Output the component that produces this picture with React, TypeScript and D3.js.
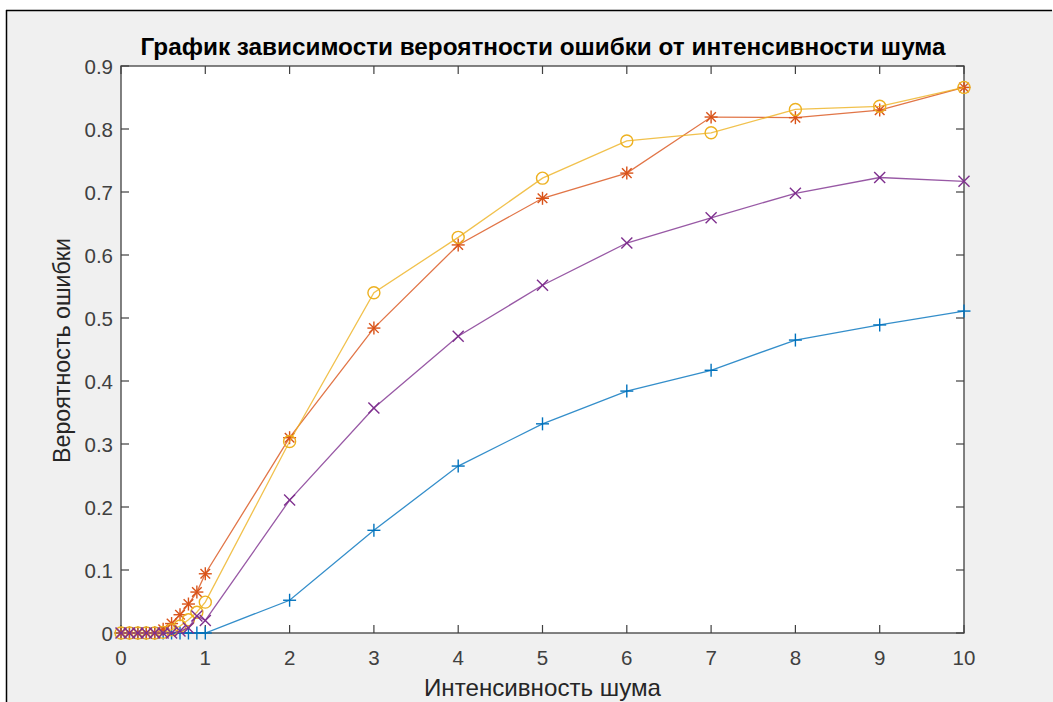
import React from "react";
import * as d3 from "d3";

const xValues = [0, 0.1, 0.2, 0.3, 0.4, 0.5, 0.6, 0.7, 0.8, 0.9, 1, 2, 3, 4, 5, 6, 7, 8, 9, 10];
const bluePlus = [0, 0, 0, 0, 0, 0, 0, 0, 0, 0, 0, 0.052, 0.163, 0.265, 0.332, 0.384, 0.417, 0.465, 0.489, 0.511];
const orangeStar = [0, 0, 0, 0, 0, 0.006, 0.015, 0.029, 0.046, 0.065, 0.094, 0.31, 0.484, 0.616, 0.69, 0.73, 0.819, 0.818, 0.83, 0.866];
const yellowCircle = [0, 0, 0, 0, 0, 0.001, 0.005, 0.011, 0.021, 0.033, 0.049, 0.304, 0.54, 0.628, 0.722, 0.781, 0.794, 0.831, 0.836, 0.866];
const purpleCross = [0, 0, 0, 0, 0, 0, 0, 0.003, 0.008, 0.027, 0.02, 0.211, 0.357, 0.471, 0.552, 0.619, 0.659, 0.698, 0.723, 0.717];

const xTicks = [0, 1, 2, 3, 4, 5, 6, 7, 8, 9, 10];
const yTicks = [0, 0.1, 0.2, 0.3, 0.4, 0.5, 0.6, 0.7, 0.8, 0.9];

const title = "График зависимости вероятности ошибки от интенсивности шума";
const xLabel = "Интенсивность шума";
const yLabel = "Вероятность ошибки";

const series = [
  { name: "plus", values: bluePlus, color: "#0072BD" },
  { name: "star", values: orangeStar, color: "#D95319" },
  { name: "circle", values: yellowCircle, color: "#EDB120" },
  { name: "cross", values: purpleCross, color: "#7E2F8E" },
];

const W = 1053;
const H = 702;
const L = 121, R = 964, T = 66, B = 633;
const axisColor = "#404040";
const font = "'Liberation Sans', Arial, Helvetica, sans-serif";

function Marker({ kind, x, y, color }: { kind: string; x: number; y: number; color: string }) {
  const s = 6.5;
  if (kind === "plus") {
    return (
      <g stroke={color} strokeWidth={1.4}>
        <line x1={x - s} y1={y} x2={x + s} y2={y} />
        <line x1={x} y1={y - s} x2={x} y2={y + s} />
      </g>
    );
  }
  if (kind === "cross") {
    const c = 5.5;
    return (
      <g stroke={color} strokeWidth={1.4}>
        <line x1={x - c} y1={y - c} x2={x + c} y2={y + c} />
        <line x1={x - c} y1={y + c} x2={x + c} y2={y - c} />
      </g>
    );
  }
  if (kind === "circle") {
    return <circle cx={x} cy={y} r={6} fill="none" stroke={color} strokeWidth={1.4} />;
  }
  const c = 4.8;
  return (
    <g stroke={color} strokeWidth={1.4}>
      <line x1={x - s} y1={y} x2={x + s} y2={y} />
      <line x1={x} y1={y - s} x2={x} y2={y + s} />
      <line x1={x - c} y1={y - c} x2={x + c} y2={y + c} />
      <line x1={x - c} y1={y + c} x2={x + c} y2={y - c} />
    </g>
  );
}

export default function App() {
  const xs = d3.scaleLinear().domain([0, 10]).range([L, R]);
  const ys = d3.scaleLinear().domain([0, 0.9]).range([B, T]);
  const line = d3
    .line<number>()
    .x((_, i) => xs(xValues[i]))
    .y((d) => ys(d));
  const tick = 8;
  return (
    <svg
      width={W}
      height={H}
      style={{ position: "absolute", left: 0, top: 0, background: "#ffffff" }}
      fontFamily={font}
    >
      <rect x={6} y={10} width={W - 6} height={H - 10} fill="#f0f0f0" />
      <line x1={6} y1={10.5} x2={1052} y2={10.5} stroke="#000" strokeWidth={1.5} />
      <line x1={6.5} y1={10} x2={6.5} y2={H} stroke="#000" strokeWidth={1.5} />
      <rect x={L} y={T} width={R - L} height={B - T} fill="#ffffff" />
      {xTicks.map((t) => (
        <g key={"xt" + t}>
          <line x1={xs(t)} y1={B} x2={xs(t)} y2={B - tick} stroke={axisColor} strokeWidth={1.2} />
          <line x1={xs(t)} y1={T} x2={xs(t)} y2={T + tick} stroke={axisColor} strokeWidth={1.2} />
          <text x={xs(t)} y={B + 32} textAnchor="middle" fontSize={20.5} fill="#404040">
            {t}
          </text>
        </g>
      ))}
      {yTicks.map((t) => (
        <g key={"yt" + t}>
          <line x1={L} y1={ys(t)} x2={L + tick} y2={ys(t)} stroke={axisColor} strokeWidth={1.2} />
          <line x1={R} y1={ys(t)} x2={R - tick} y2={ys(t)} stroke={axisColor} strokeWidth={1.2} />
          <text x={L - 8} y={ys(t) + 8} textAnchor="end" fontSize={20.5} fill="#404040">
            {t === 0 ? "0" : String(t)}
          </text>
        </g>
      ))}
      <rect x={L} y={T} width={R - L} height={B - T} fill="none" stroke={axisColor} strokeWidth={1.3} />
      {series.map((s) => (
        <g key={s.name}>
          <path d={line(s.values) || ""} fill="none" stroke={s.color} strokeOpacity={0.8} strokeWidth={1.3} />
          {s.values.map((v, i) => (
            <Marker key={i} kind={s.name} x={xs(xValues[i])} y={ys(v)} color={s.color} />
          ))}
        </g>
      ))}
      <text
        x={(L + R) / 2 + 0.5}
        y={55}
        textAnchor="middle"
        fontSize={24}
        fontWeight="bold"
        fill="#000"
        textLength={805}
        lengthAdjust="spacingAndGlyphs"
      >
        {title}
      </text>
      <text
        x={(L + R) / 2}
        y={696}
        textAnchor="middle"
        fontSize={24}
        fill="#262626"
        textLength={237}
        lengthAdjust="spacingAndGlyphs"
      >
        {xLabel}
      </text>
      <text
        transform={`translate(70, ${(T + B) / 2 + 1}) rotate(-90)`}
        textAnchor="middle"
        fontSize={24}
        fill="#262626"
        textLength={225}
        lengthAdjust="spacingAndGlyphs"
      >
        {yLabel}
      </text>
    </svg>
  );
}
